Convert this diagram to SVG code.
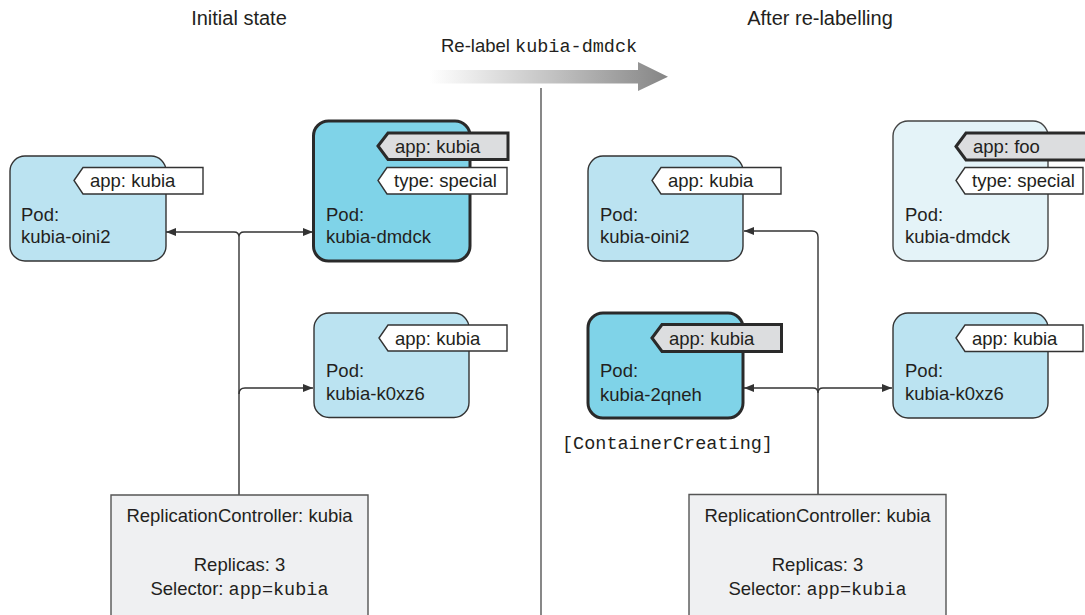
<svg xmlns="http://www.w3.org/2000/svg" width="1085" height="615" viewBox="0 0 1085 615">
  <defs>
    <linearGradient id="relabelGrad" gradientUnits="userSpaceOnUse" x1="430" y1="0" x2="668" y2="0">
      <stop offset="0" stop-color="#ffffff"/>
      <stop offset="0.5" stop-color="#c4c4c4"/>
      <stop offset="1" stop-color="#858585"/>
    </linearGradient>
    <marker id="arr" viewBox="0 0 10 8" refX="10" refY="4" markerWidth="10" markerHeight="8" markerUnits="userSpaceOnUse" orient="auto-start-reverse">
      <path d="M0,0 L10,4 L0,8 Z" fill="#333"/>
    </marker>
    <style>
      text { font-family: "Liberation Sans", Arial, sans-serif; fill: #231f20; }
      .title { font-size: 20px; text-anchor: middle; }
      .t { font-size: 18.5px; }
      .mono { font-family: "Liberation Mono", "Courier New", monospace; font-size: 18.5px; }
      .pod { fill: #bbe3f1; stroke: #333; stroke-width: 1.4; }
      .podhi { fill: #7fd3e8; stroke: #2a2a2a; stroke-width: 3; }
      .podfade { fill: #e4f3f8; stroke: #444; stroke-width: 1.4; }
      .lbl { fill: #ffffff; stroke: #333; stroke-width: 1.4; }
      .lblhi { fill: #dcdddf; stroke: #2a2a2a; stroke-width: 3; }
      .rc { fill: #eff0f2; stroke: #555; stroke-width: 1.4; }
      .conn { fill: none; stroke: #333; stroke-width: 1.4; }
      .div { stroke: #555; stroke-width: 1.4; }
    </style>
  </defs>

  <!-- Titles -->
  <text class="title" x="239" y="25">Initial state</text>
  <text class="title" x="820" y="25">After re-labelling</text>

  <!-- Re-label arrow -->
  <g id="relabel">
    <text class="t" x="441" y="52">Re-label <tspan class="mono">kubia-dmdck</tspan></text>
    <path d="M430,70 H638 V62 L668,76.7 L638,91 V83.5 H430 Z" fill="url(#relabelGrad)"/>
  </g>

  <!-- Divider -->
  <line class="div" x1="541" y1="88" x2="541" y2="615"/>

  <!-- Connectors -->
  <g id="connectors">
    <path class="conn" d="M166,232 H234 Q239,232 239,237 Q239,232 244,232 H313" marker-start="url(#arr)" marker-end="url(#arr)"/>
    <path class="conn" d="M239,237 V495"/>
    <path class="conn" d="M239,394 Q239,388 245,388 H313" marker-end="url(#arr)"/>
    <path class="conn" d="M818,494 V237 Q818,231 812,231 H744" marker-end="url(#arr)"/>
    <path class="conn" d="M744,388 H813 Q818,388 818,393 Q818,388 823,388 H892" marker-start="url(#arr)" marker-end="url(#arr)"/>
  </g>

  <!-- Left: kubia-oini2 -->
  <g id="l-oini2">
    <rect class="pod" x="10" y="156" width="156" height="105" rx="15"/>
    <polygon class="lbl" points="74,180.5 83,167.5 203,167.5 203,194 83,194"/>
    <text class="t" x="90" y="187">app: kubia</text>
    <text class="t" x="21" y="220.5">Pod:</text>
    <text class="t" x="21" y="243">kubia-oini2</text>
  </g>

  <!-- Left: kubia-dmdck -->
  <g id="l-dmdck">
    <rect class="podhi" x="313.5" y="121" width="156.5" height="140" rx="15"/>
    <polygon class="lblhi" points="378,146 388,133 508,133 508,159.5 388,159.5"/>
    <text class="t" x="395" y="152.5">app: kubia</text>
    <polygon class="lbl" points="378,180.5 387,167.5 507,167.5 507,194 387,194"/>
    <text class="t" x="394" y="187">type: special</text>
    <text class="t" x="326" y="220.5">Pod:</text>
    <text class="t" x="326" y="243">kubia-dmdck</text>
  </g>

  <!-- Left: kubia-k0xz6 -->
  <g id="l-k0xz6">
    <rect class="pod" x="314" y="313" width="155" height="104.5" rx="15"/>
    <polygon class="lbl" points="379,338 388,325 507,325 507,351 388,351"/>
    <text class="t" x="395" y="344.5">app: kubia</text>
    <text class="t" x="326" y="377">Pod:</text>
    <text class="t" x="326" y="400">kubia-k0xz6</text>
  </g>

  <!-- Left: ReplicationController -->
  <g id="l-rc">
    <path class="rc" d="M111,620 V495 H368 V620"/>
    <text class="t" x="239.5" y="522" text-anchor="middle">ReplicationController: kubia</text>
    <text class="t" x="239.5" y="571" text-anchor="middle">Replicas: 3</text>
    <text class="t" x="239.5" y="595" text-anchor="middle">Selector: <tspan class="mono">app=kubia</tspan></text>
  </g>

  <!-- Right: kubia-oini2 -->
  <g id="r-oini2">
    <rect class="pod" x="588" y="156" width="155" height="105" rx="15"/>
    <polygon class="lbl" points="652,180.5 661,167.5 781,167.5 781,194 661,194"/>
    <text class="t" x="668" y="187">app: kubia</text>
    <text class="t" x="600" y="220.5">Pod:</text>
    <text class="t" x="600" y="243">kubia-oini2</text>
  </g>

  <!-- Right: kubia-dmdck (relabelled) -->
  <g id="r-dmdck">
    <rect class="podfade" x="893" y="121" width="155" height="140" rx="15"/>
    <polygon class="lblhi" points="956,146.5 966,133 1090,133 1090,160 966,160"/>
    <text class="t" x="973" y="153">app: foo</text>
    <polygon class="lbl" points="956,180.5 965,167.5 1083,167.5 1083,194 965,194"/>
    <text class="t" x="972" y="187">type: special</text>
    <text class="t" x="905" y="220.5">Pod:</text>
    <text class="t" x="905" y="243">kubia-dmdck</text>
  </g>

  <!-- Right: kubia-2qneh -->
  <g id="r-2qneh">
    <rect class="podhi" x="588" y="313" width="155" height="105" rx="15"/>
    <polygon class="lblhi" points="652,338 662,324.5 781.5,324.5 781.5,351.5 662,351.5"/>
    <text class="t" x="669" y="344.5">app: kubia</text>
    <text class="t" x="600" y="377">Pod:</text>
    <text class="t" x="600" y="400.5">kubia-2qneh</text>
    <text class="mono" x="562" y="449">[ContainerCreating]</text>
  </g>

  <!-- Right: kubia-k0xz6 -->
  <g id="r-k0xz6">
    <rect class="pod" x="893" y="313" width="155" height="105" rx="15"/>
    <polygon class="lbl" points="956,338 965,325 1083,325 1083,351.5 965,351.5"/>
    <text class="t" x="972" y="344.5">app: kubia</text>
    <text class="t" x="905" y="377">Pod:</text>
    <text class="t" x="905" y="400">kubia-k0xz6</text>
  </g>

  <!-- Right: ReplicationController -->
  <g id="r-rc">
    <path class="rc" d="M689,620 V494.5 H946 V620"/>
    <text class="t" x="817.5" y="522" text-anchor="middle">ReplicationController: kubia</text>
    <text class="t" x="817.5" y="571" text-anchor="middle">Replicas: 3</text>
    <text class="t" x="817.5" y="595" text-anchor="middle">Selector: <tspan class="mono">app=kubia</tspan></text>
  </g>
</svg>
